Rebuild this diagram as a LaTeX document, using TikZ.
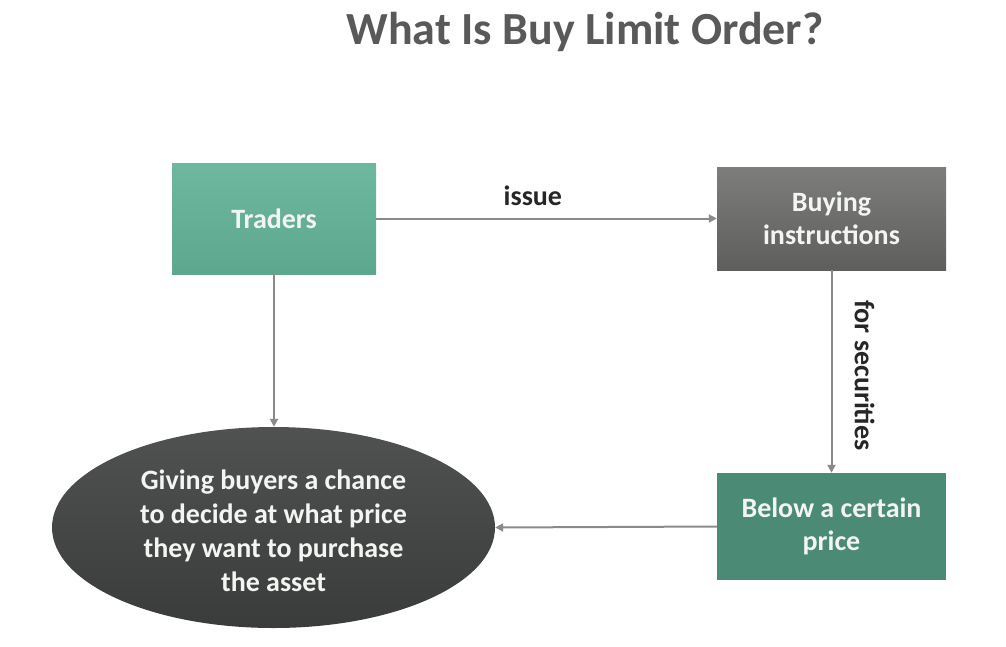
\documentclass[tikz,border=0pt]{standalone}
\usepackage{fontspec}
\setmainfont{Carlito}
\usetikzlibrary{shapes.geometric,arrows.meta}
\definecolor{tealtop}{HTML}{6DB89E}
\definecolor{tealbot}{HTML}{5CA78E}
\definecolor{graytop}{HTML}{7D7D7B}
\definecolor{graybot}{HTML}{5E5F5D}
\definecolor{darkteal}{HTML}{4B8B75}
\definecolor{elltop}{HTML}{505151}
\definecolor{ellbot}{HTML}{3A3B3B}
\definecolor{linegray}{HTML}{8A8A8A}
\definecolor{titlegray}{HTML}{595959}
\definecolor{textlight}{HTML}{F2F5F2}
\tikzset{
  box/.style={rectangle, draw=none, text=textlight, font=\bfseries\fontsize{28}{33}\selectfont, align=center, inner sep=0pt},
  conn/.style={draw=linegray, line width=2pt, -{Triangle[length=8pt,width=8pt]}},
  lbl/.style={font=\bfseries\fontsize{28}{33}\selectfont, text=black!85}
}
\begin{document}
\begin{tikzpicture}[x=1pt,y=-1pt]
\useasboundingbox (0,0) rectangle (1006,646);
\node[titlegray, font=\bfseries\fontsize{46}{54}\selectfont] (title) at (585,32) {What Is Buy Limit Order?};
\node[box, minimum width=204pt, minimum height=111pt, top color=tealtop, bottom color=tealbot] (traders) at (274,218.5) {Traders};
\node[box, minimum width=229pt, minimum height=103pt, top color=graytop, bottom color=graybot] (buying) at (831.5,218.5) {Buying\\instructions};
\node[box, minimum width=229pt, minimum height=107pt, fill=darkteal] (below) at (831.5,526.5) {Below a certain\\price};
\node[ellipse, draw=none, inner sep=0pt, minimum width=443pt, minimum height=201pt, top color=elltop, bottom color=ellbot] (goal) at (273.5,527.5) {};
\node[text=textlight, align=center, font=\bfseries\fontsize{28}{34}\selectfont] (goaltext) at ([yshift=-3pt]goal.center) {Giving buyers a chance\\to decide at what price\\they want to purchase\\the asset};
\draw[conn] (traders.east) -- node[lbl, pos=0.46, above=8pt] (issue) {issue} (buying.west);
\draw[conn] (buying.south) -- node[lbl, pos=0.52, xshift=33pt, rotate=-90] (forsec) {for securities} (below.north);
\draw[conn] (traders.south) -- (goal.north -| traders.south);
\draw[conn] (below.west) -- (goal.east);
\end{tikzpicture}
\end{document}
